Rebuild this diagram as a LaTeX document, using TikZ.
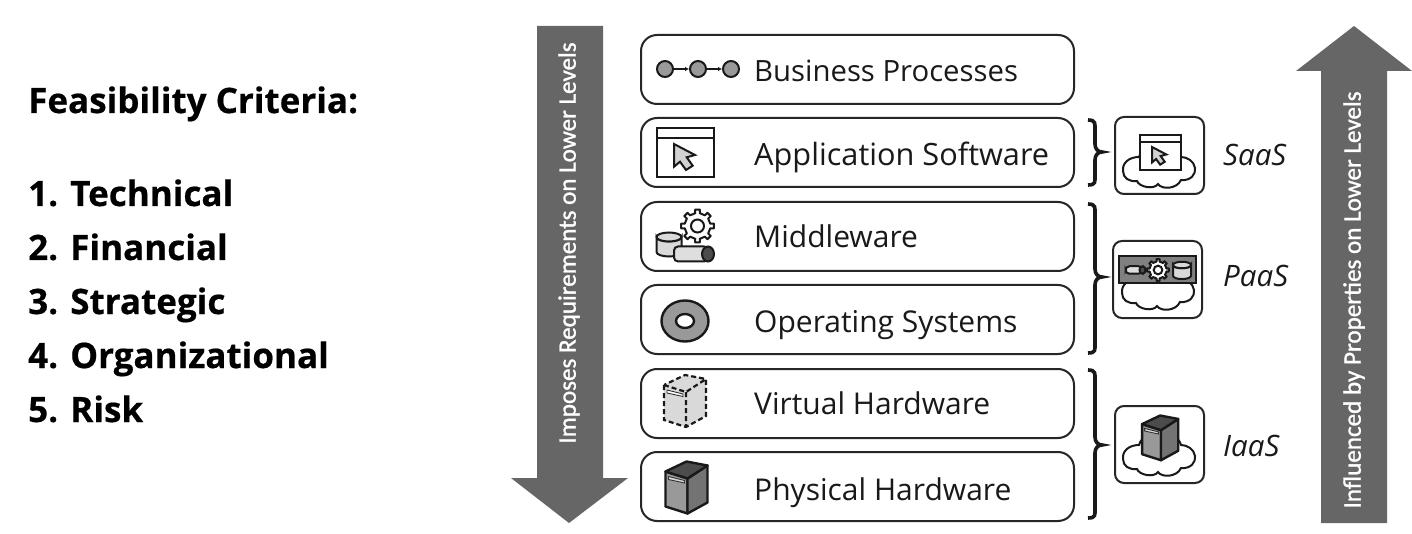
\documentclass[tikz,border=0pt]{standalone}
\usepackage{fontspec}
\usetikzlibrary{arrows.meta}
\setmainfont{Open Sans}
\newfontfamily\critfont[BoldFeatures={FakeBold=0.5}]{Open Sans}
\newfontfamily\condfont[FakeBold=1.2]{Carlito}
\tikzset{
  layerbox/.style={draw=black!85,line width=2pt,rounded corners=16pt,fill=white,minimum width=433pt,minimum height=69pt,inner sep=0pt},
  layertext/.style={anchor=base west,font=\fontsize{30}{32}\selectfont,inner sep=0pt,text=black!90},
  critext/.style={anchor=base west,font=\critfont\fontsize{35}{40}\selectfont\bfseries,inner sep=0pt},
  kindtext/.style={anchor=base west,font=\fontsize{29.5}{32}\selectfont\itshape,inner sep=0pt,text=black!90},
  iconbox/.style={draw=black!85,line width=2pt,rounded corners=9pt,fill=white,minimum width=89pt,minimum height=77pt,inner sep=0pt},
  arrowbody/.style={fill=black!60,draw=none},
  arrowtext/.style={text=white,rotate=90,font=\condfont\fontsize{25.1}{28}\selectfont,inner sep=0pt},
  bracepath/.style={line width=3.6pt,draw=black!90},
  iconline/.style={draw=black!90,line width=2pt},
  cloud/.pic={
    \draw[iconline,fill=white] (-20,-12) .. controls (-30,-12) and (-37,-6) .. (-36,2) .. controls (-36,9) and (-30,13) .. (-22,12) .. controls (-20,18) and (-5,21) .. (-1,15) .. controls (3,21) and (18,20) .. (22,11) .. controls (32,12) and (37,5) .. (36,-1) .. controls (35,-8) and (28,-12) .. (22,-12) .. controls (18,-28) and (-16,-28) .. (-20,-12) -- cycle;
  },
  cursor/.pic={
    \draw[draw=black!90,line width=2pt,fill=black!18,line join=miter] (0,0) -- (0,22.7) -- (6,17.7) -- (12,26) -- (18.7,21.7) -- (12.7,13.3) -- (21,11) -- cycle;
  },
  serverhard/.pic={
    \draw[iconline,line width=2.4pt,fill=black!40,line join=round] (-22,-8) -- (-22,27) -- (0,34) -- (0,-1) -- cycle;
    \draw[iconline,line width=2.4pt,fill=black!55,line join=round] (0,-1) -- (0,34) -- (20,23) -- (20,-14) -- cycle;
    \draw[iconline,line width=2.4pt,fill=black!70,line join=round] (-22,-8) -- (-1,-18) -- (20,-14) -- (0,-1) -- cycle;
    \draw[draw=black!80,line width=.9pt,fill=black!15] (-19,-3) -- (-3,1) -- (-3,3.5) -- (-19,0) -- cycle;
  },
  serversoft/.pic={
    \fill[black!15] (-22,-8) -- (-1,-18) -- (20,-14) -- (20,23) -- (0,34) -- (-22,27) -- cycle;
    \draw[iconline,line width=2.2pt,dash pattern=on 5pt off 3pt] (-22,-8) -- (-22,27) -- (0,34) -- (20,23) -- (20,-14) -- (-1,-18) -- cycle (-22,-8) -- (0,-1) -- (20,-14) (0,-1) -- (0,34);
    \draw[draw=black!80,line width=.9pt,fill=white] (-19,-3) -- (-3,1) -- (-3,3.5) -- (-19,0) -- cycle;
  },
  gear/.pic={
    \draw[iconline,fill=white,line join=round] (-10:13) \foreach \a in {0,45,...,315} { -- (\a-10:13) -- (\a-8:16.5) -- (\a+8:16.5) -- (\a+10:13) } -- cycle;
    \draw[iconline,fill=white] (0,0) circle[radius=6.5pt];
  },
  dbcyl/.pic={
    \draw[iconline,fill=black!15] (-12.5,0) -- (-12.5,15) arc[start angle=180,end angle=360,x radius=12.5pt,y radius=4.5pt] -- (12.5,0) arc[start angle=0,end angle=180,x radius=12.5pt,y radius=-4.5pt] -- cycle;
    \draw[iconline,fill=black!15] (0,0) ellipse[x radius=12.5pt,y radius=4.5pt];
  },
  pipe/.pic={
    \draw[iconline,fill=black!13,rounded corners=4pt] (-20,-7.5) -- (14,-7.5) -- (14,7.5) -- (-20,7.5) -- cycle;
    \draw[iconline,fill=black!70] (14,0) ellipse[x radius=6pt,y radius=7.5pt];
  }
}
\begin{document}
\begin{tikzpicture}[x=1pt,y=-1pt]
\useasboundingbox (0,0) rectangle (1412,534);
% left text
\node[critext] (crit0) at (28,113) {Feasibility Criteria:};
\node[critext] (crit1) at (28,206) {1. Technical};
\node[critext] (crit2) at (28,260) {2. Financial};
\node[critext] (crit3) at (28,314) {3. Strategic};
\node[critext] (crit4) at (28,368) {4. Organizational};
\node[critext] (crit5) at (28,422) {5. Risk};
% big arrows
\path[arrowbody] (537,26) -- (603,26) -- (603,478) -- (628,478) -- (569,523) -- (511,478) -- (537,478) -- cycle;
\node[arrowtext] (imposes) at (569,243) {Imposes Requirements on Lower Levels};
\path[arrowbody] (1321,523) -- (1387,523) -- (1387,71) -- (1412,71) -- (1354,26) -- (1296,71) -- (1321,71) -- cycle;
\node[arrowtext] (influenced) at (1354,300) {Influenced by Properties on Lower Levels};
% layers
\node[layerbox] (bp) at (857.5,69.5) {};
\node[layerbox] (app) at (857.5,152.5) {};
\node[layerbox] (mw) at (857.5,236.5) {};
\node[layerbox] (os) at (857.5,319.5) {};
\node[layerbox] (vh) at (857.5,403.5) {};
\node[layerbox] (ph) at (857.5,486.5) {};
\node[layertext,font=\fontsize{29.3}{32}\selectfont] (bpt) at (754,82) {Business Processes};
\node[layertext,font=\fontsize{30.7}{32}\selectfont] (appt) at (754,166) {Application Software};
\node[layertext] (mwt) at (754,248) {Middleware};
\node[layertext] (ost) at (754,332) {Operating Systems};
\node[layertext] (vht) at (754,414) {Virtual Hardware};
\node[layertext] (pht) at (754,500) {Physical Hardware};
% flow icon
\foreach \n/\x in {fa/665,fb/698,fc/731}
  \node[circle,draw=black!90,line width=2pt,fill=black!40,minimum size=16pt,inner sep=0pt] (\n) at (\x,69) {};
\draw[-{Latex[length=4pt,width=4.5pt]},black!90,line width=1.4pt] (fa) -- (fb);
\draw[-{Latex[length=4pt,width=4.5pt]},black!90,line width=1.4pt] (fb) -- (fc);
% window icon
\draw[iconline,line width=2.4pt,fill=white] (657,128) rectangle (714,177) (657,138) -- (714,138);
\pic at (674,144) {cursor};
% middleware icon
\pic at (697.5,226) {gear};
\pic at (669,237) {dbcyl};
\pic at (694,254) {pipe};
% disc icon
\draw[iconline,line width=2.4pt,fill=black!40] (685,321) ellipse[x radius=23.5pt,y radius=20.5pt];
\draw[iconline,line width=2.4pt,fill=white] (685,321) ellipse[x radius=9pt,y radius=7pt];
% servers
\pic at (686,393) {serversoft};
\pic at (687.5,479.5) {serverhard};
% braces
\draw[bracepath] (1088,120) .. controls (1096,120) and (1095,124) .. (1095,130) -- (1095,144) .. controls (1095,149) and (1098,152) .. (1102,152) .. controls (1098,152) and (1095,155) .. (1095,160) -- (1095,175) .. controls (1095,182) and (1096,185) .. (1088,185);
\draw[bracepath] (1088,204) .. controls (1096,204) and (1095,208) .. (1095,214) -- (1095,269) .. controls (1095,274) and (1098,277) .. (1102,277) .. controls (1098,277) and (1095,280) .. (1095,285) -- (1095,343) .. controls (1095,350) and (1096,353) .. (1088,353);
\draw[bracepath] (1088,370) .. controls (1096,370) and (1095,374) .. (1095,380) -- (1095,437) .. controls (1095,442) and (1098,445) .. (1102,445) .. controls (1098,445) and (1095,448) .. (1095,453) -- (1095,508) .. controls (1095,515) and (1096,518) .. (1088,518);
% service boxes
\node[iconbox] (saas) at (1159.5,155.5) {};
\node[iconbox] (paas) at (1157.5,279.5) {};
\node[iconbox] (iaas) at (1159.5,444.5) {};
\pic at (1159,169) {cloud};
\draw[iconline,line width=2.2pt,fill=white] (1140,135) rectangle (1181,170) (1140,142) -- (1181,142);
\pic[scale=.68] at (1152,147) {cursor};
\pic at (1158,291) {cloud};
\draw[iconline,line width=2.2pt,fill=black!50] (1119,256) rectangle (1196,283);
\pic[scale=.5] at (1135.5,270) {pipe};
\pic[scale=.66] at (1158,270) {gear};
\pic[scale=.72] at (1182,265) {dbcyl};
\pic at (1159,457) {cloud};
\pic[scale=.86] at (1161,431) {serverhard};
\node[kindtext] (saast) at (1223,166) {SaaS};
\node[kindtext] (paast) at (1223,287) {PaaS};
\node[kindtext] (iaast) at (1223,456) {IaaS};
\end{tikzpicture}
\end{document}
